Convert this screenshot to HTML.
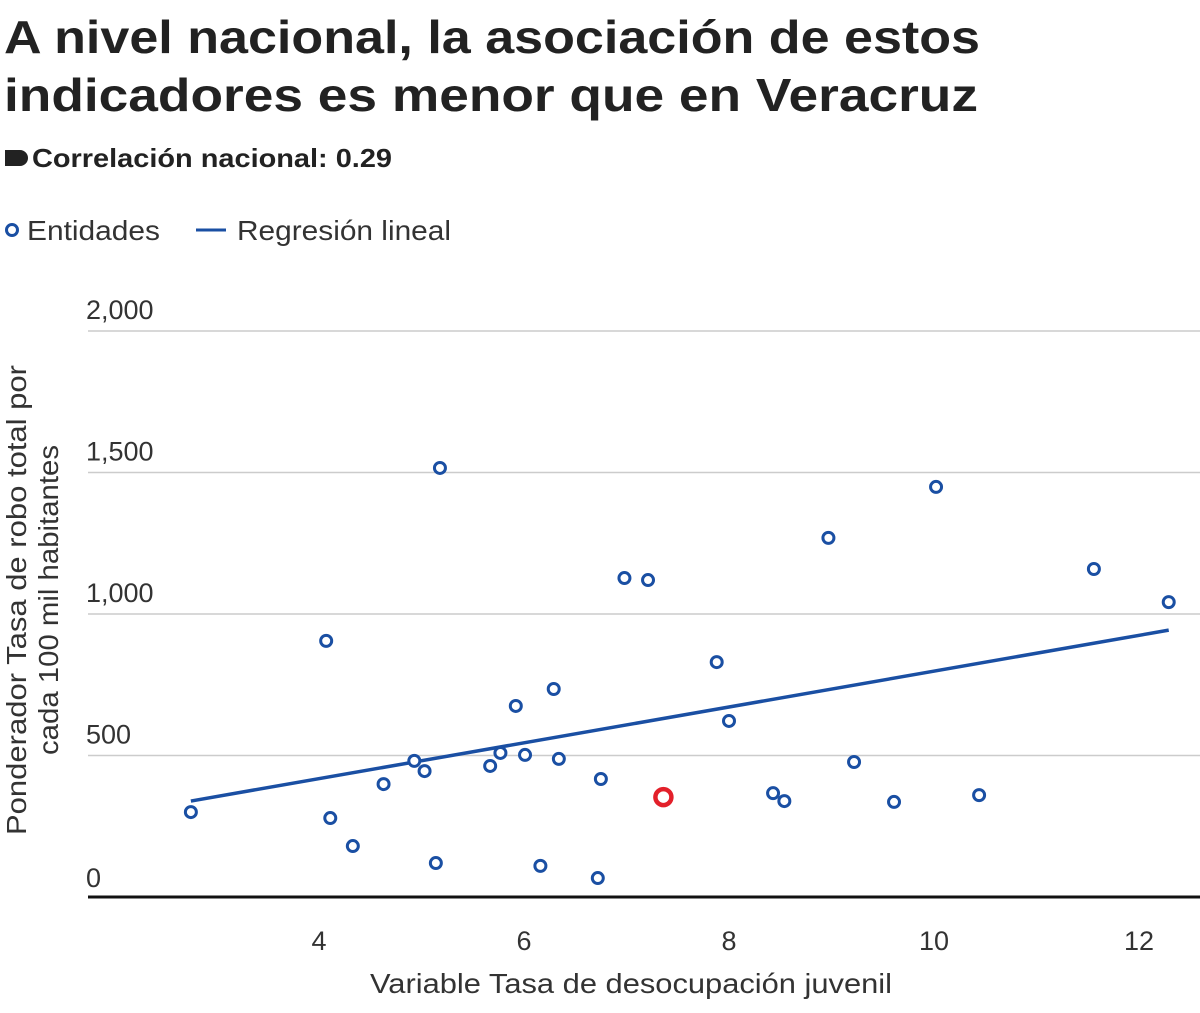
<!DOCTYPE html>
<html><head><meta charset="utf-8"><style>
body{margin:0;background:#fff;font-family:"Liberation Sans",sans-serif;}
svg text{font-family:"Liberation Sans",sans-serif;}
</style></head><body>
<svg id="chart" width="1200" height="1008" viewBox="0 0 1200 1008">
<text x="4" y="53" font-size="46" font-weight="bold" fill="#222" textLength="976" lengthAdjust="spacingAndGlyphs">A nivel nacional, la asociación de estos</text>
<text x="4" y="111" font-size="46" font-weight="bold" fill="#222" textLength="974" lengthAdjust="spacingAndGlyphs">indicadores es menor que en Veracruz</text>
<path d="M5,150 h15 a8,8 0 0 1 0,16 h-15 z" fill="#222"/>
<text x="32" y="167" font-size="26" font-weight="bold" fill="#222" textLength="360" lengthAdjust="spacingAndGlyphs">Correlación nacional: 0.29</text>
<g>
<circle cx="12" cy="230" r="5.5" fill="#fff" stroke="#1a4fa3" stroke-width="3"/>
<text x="27" y="240" font-size="28" fill="#333" textLength="133" lengthAdjust="spacingAndGlyphs">Entidades</text>
<line x1="196" y1="230" x2="226" y2="230" stroke="#1a4fa3" stroke-width="3"/>
<text x="237" y="240" font-size="28" fill="#333" textLength="214" lengthAdjust="spacingAndGlyphs">Regresión lineal</text>
</g>
<g id="grid"></g>
<g id="marks"></g>
<text transform="translate(26,600) rotate(-90)" text-anchor="middle" font-size="28" fill="#333" textLength="470" lengthAdjust="spacingAndGlyphs">Ponderador Tasa de robo total por</text>
<text transform="translate(58,600) rotate(-90)" text-anchor="middle" font-size="28" fill="#333" textLength="310" lengthAdjust="spacingAndGlyphs">cada 100 mil habitantes</text>
<text x="631" y="993" text-anchor="middle" font-size="28" fill="#333" textLength="522" lengthAdjust="spacingAndGlyphs">Variable Tasa de desocupación juvenil</text>
</svg>
<script>
const xVals=[2.75,4.07,4.11,4.33,4.63,4.93,5.03,5.14,5.18,5.67,5.77,5.92,6.01,6.16,6.29,6.34,6.72,6.75,6.98,7.21,7.88,8.0,8.43,8.54,8.97,9.22,9.61,10.02,10.44,11.56,12.29];
const yVals=[300,905,279,180,399,481,445,120,1516,463,509,675,502,110,735,488,67,417,1127,1120,830,622,367,339,1269,477,336,1449,360,1159,1042];
const highlightX=[7.36];
const highlightY=[353];
const regSlope=63.3;
const regIntercept=165;
const regRange=[2.75,12.29];
const yTicks=[0,500,1000,1500,2000];
const yTickLabels=["0","500","1,000","1,500","2,000"];
const xTicks=[4,6,8,10,12];
const xTickLabels=["4","6","8","10","12"];
const NS="http://www.w3.org/2000/svg";
const sx=v=>319+(v-4)*102.5;
const sy=v=>897-v*0.283;
function mk(tag,attrs,parent){const e=document.createElementNS(NS,tag);for(const k in attrs)e.setAttribute(k,attrs[k]);parent.appendChild(e);return e;}
const grid=document.getElementById('grid'),marks=document.getElementById('marks');
yTicks.forEach((t,i)=>{
 if(t!==0){const l=mk('line',{x1:88,x2:1200,y1:sy(t),y2:sy(t),stroke:'#ccc','stroke-width':1.5},grid);
 
 }
 const tx=mk('text',{x:86,y:sy(t)-(t===0?10:12),'font-size':27,fill:'#333'},grid);tx.textContent=yTickLabels[i];
 
 
});
const ax=mk('line',{x1:88,x2:1200,y1:sy(0),y2:sy(0),stroke:'#111','stroke-width':3},grid);


xTicks.forEach((t,i)=>{
 const tx=mk('text',{x:sx(t),y:950,'font-size':27,fill:'#333','text-anchor':'middle'},grid);tx.textContent=xTickLabels[i];
 
 
});
const rl=mk('line',{x1:sx(regRange[0]),y1:sy(regIntercept+regSlope*regRange[0]),x2:sx(regRange[1]),y2:sy(regIntercept+regSlope*regRange[1]),stroke:'#1a4fa3','stroke-width':3.5},marks);


xVals.forEach((x,i)=>{
 const c=mk('circle',{cx:sx(x),cy:sy(yVals[i]),r:5.5,fill:'#fff',stroke:'#1a4fa3','stroke-width':3},marks);
 
 
});
highlightX.forEach((x,i)=>{
 const c=mk('circle',{cx:sx(x),cy:sy(highlightY[i]),r:8,fill:'#fff',stroke:'#e3202a','stroke-width':4.5},marks);
 
 
});
</script>
</body></html>
